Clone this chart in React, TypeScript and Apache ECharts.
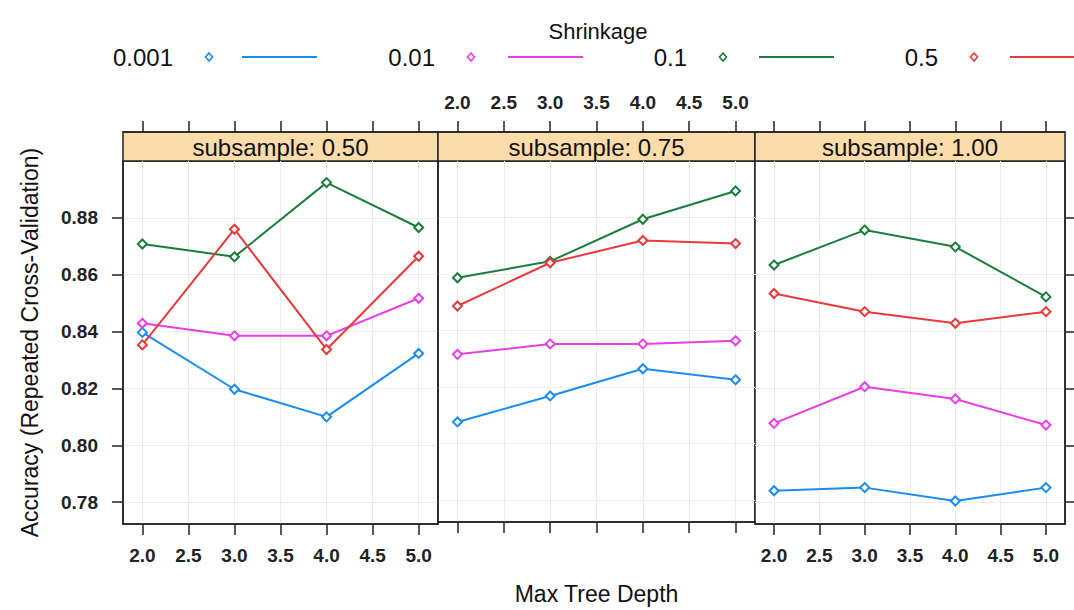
import React, { useEffect, useRef } from "react";
import * as echarts from "echarts";

// ---- data ----
const depths = [2, 3, 4, 5];
const xTicks = [2.0, 2.5, 3.0, 3.5, 4.0, 4.5, 5.0];
const yTicks = [0.78, 0.8, 0.82, 0.84, 0.86, 0.88];
const subsamples = ["subsample: 0.50", "subsample: 0.75", "subsample: 1.00"];
const shrinkages = ["0.001", "0.01", "0.1", "0.5"];

// subsample 0.50
const sub050_s0001 = [0.8397, 0.8197, 0.81, 0.8323];
const sub050_s001 = [0.8429, 0.8385, 0.8385, 0.8517];
const sub050_s01 = [0.8708, 0.8663, 0.8924, 0.8766];
const sub050_s05 = [0.8353, 0.876, 0.8337, 0.8665];
// subsample 0.75
const sub075_s0001 = [0.8077, 0.8169, 0.8265, 0.8226];
const sub075_s001 = [0.8316, 0.8353, 0.8353, 0.8364];
const sub075_s01 = [0.8587, 0.8645, 0.8794, 0.8894];
const sub075_s05 = [0.8487, 0.864, 0.8719, 0.8708];
// subsample 1.00
const sub100_s0001 = [0.784, 0.7851, 0.7804, 0.7851];
const sub100_s001 = [0.8077, 0.8206, 0.8163, 0.8071];
const sub100_s01 = [0.8634, 0.8757, 0.8698, 0.8522];
const sub100_s05 = [0.8534, 0.847, 0.8429, 0.847];

const panelData = [
  [sub050_s0001, sub050_s001, sub050_s01, sub050_s05],
  [sub075_s0001, sub075_s001, sub075_s01, sub075_s05],
  [sub100_s0001, sub100_s001, sub100_s01, sub100_s05],
];

// ---- style / layout ----
const colors = ["#1a8cf0", "#e83de8", "#1b7d3c", "#e8393b"];
const FONT = "Liberation Sans, Arial, sans-serif";
const panelLeft = [123, 438, 755];
const panelRight = [438, 755, 1065];
const stripTop = 132;
const plotTop = 161;
const plotBottom = 524;
const xMin = 1.79;
const xMax = 5.21;
const yMin = 0.7723;
const yMax = 0.9;
const legendDiamondX = [209, 471, 723, 974];
const legendLineX = [242, 508, 759, 1010];
const legendY = 57;

export default function App() {
  const ref = useRef<HTMLDivElement>(null);
  useEffect(() => {
    if (!ref.current) return;
    const chart = echarts.init(ref.current, undefined, { renderer: "svg" });

    const grids: any[] = [];
    const xAxes: any[] = [];
    const yAxes: any[] = [];
    const series: any[] = [];
    const graphics: any[] = [];

    const tickLabelStyle = {
      fontFamily: FONT,
      fontSize: 19,
      fontWeight: "bold",
      color: "#222",
    };

    for (let p = 0; p < 3; p++) {
      const w = panelRight[p] - panelLeft[p];
      // plot grid
      grids.push({
        left: panelLeft[p],
        top: plotTop,
        width: w,
        height: plotBottom - plotTop,
        show: true,
        backgroundColor: "#fff",
        borderColor: "#222",
        borderWidth: 1.5,
      });
      // strip grid
      grids.push({
        left: panelLeft[p],
        top: stripTop,
        width: w,
        height: plotTop - stripTop,
        show: true,
        backgroundColor: "#fcdcab",
        borderColor: "#222",
        borderWidth: 1.5,
      });
      const gPlot = p * 2;
      const gStrip = p * 2 + 1;

      xAxes.push({
        type: "value",
        gridIndex: gPlot,
        min: xMin,
        max: xMax,
        position: "bottom",
        name: p === 1 ? "Max Tree Depth" : "",
        nameLocation: "middle",
        nameGap: 60,
        nameTextStyle: { fontFamily: FONT, fontSize: 23, color: "#111" },
        axisLine: { show: true, onZero: false, lineStyle: { color: "#222", width: 1.5 } },
        axisTick: {
          show: true,
          inside: false,
          length: 11,
          customValues: xTicks,
          lineStyle: { color: "#222", width: 1.5 },
        },
        axisLabel: {
          show: p !== 1,
          customValues: xTicks,
          margin: 22,
          formatter: (v: number) => v.toFixed(1),
          ...tickLabelStyle,
        },
        splitLine: { show: true, lineStyle: { color: "#ececec", width: 1 } },
      });
      xAxes.push({
        type: "value",
        gridIndex: gStrip,
        min: xMin,
        max: xMax,
        position: "top",
        axisLine: { show: true, onZero: false, lineStyle: { color: "#222", width: 1.5 } },
        axisTick: {
          show: true,
          inside: false,
          length: 11,
          customValues: xTicks,
          lineStyle: { color: "#222", width: 1.5 },
        },
        axisLabel: {
          show: p === 1,
          customValues: xTicks,
          margin: 20,
          formatter: (v: number) => v.toFixed(1),
          ...tickLabelStyle,
        },
        splitLine: { show: false },
      });

      yAxes.push({
        type: "value",
        gridIndex: gPlot,
        min: yMin,
        max: yMax,
        position: p === 2 ? "right" : "left",
        name: p === 0 ? "Accuracy (Repeated Cross-Validation)" : "",
        nameLocation: "middle",
        nameGap: 82,
        nameTextStyle: { fontFamily: FONT, fontSize: 23, color: "#111" },
        axisLine: { show: true, onZero: false, lineStyle: { color: "#222", width: 1.5 } },
        axisTick: {
          show: p !== 1,
          inside: false,
          length: 11,
          customValues: yTicks,
          lineStyle: { color: "#222", width: 1.5 },
        },
        axisLabel: {
          show: p === 0,
          customValues: yTicks,
          margin: 25,
          formatter: (v: number) => v.toFixed(2),
          ...tickLabelStyle,
        },
        splitLine: { show: true, lineStyle: { color: "#ececec", width: 1 } },
      });
      yAxes.push({
        type: "value",
        gridIndex: gStrip,
        min: 0,
        max: 1,
        show: false,
      });

      for (let s = 0; s < 4; s++) {
        series.push({
          type: "line",
          name: shrinkages[s],
          xAxisIndex: gPlot,
          yAxisIndex: gPlot,
          data: depths.map((d, i) => [d, panelData[p][s][i]]),
          symbol: "emptyDiamond",
          symbolSize: 9,
          showSymbol: true,
          lineStyle: { color: colors[s], width: 2 },
          itemStyle: { color: colors[s], borderWidth: 1.8 },
          z: 3,
        });
      }

      graphics.push({
        type: "text",
        x: (panelLeft[p] + panelRight[p]) / 2,
        y: (stripTop + plotTop) / 2 + 1,
        style: {
          text: subsamples[p],
          fontFamily: FONT,
          fontSize: 24,
          fill: "#111",
          textAlign: "center",
          textVerticalAlign: "middle",
        },
        z: 10,
      });
    }

    // legend (drawn as graphic)
    graphics.push({
      type: "text",
      x: 598,
      y: 31,
      style: {
        text: "Shrinkage",
        fontFamily: FONT,
        fontSize: 22,
        fill: "#111",
        textAlign: "center",
        textVerticalAlign: "middle",
      },
    });
    shrinkages.forEach((name, i) => {
      const dx = legendDiamondX[i];
      graphics.push({
        type: "text",
        x: dx - 36,
        y: legendY,
        style: {
          text: name,
          fontFamily: FONT,
          fontSize: 24,
          fill: "#111",
          textAlign: "right",
          textVerticalAlign: "middle",
        },
      });
      graphics.push({
        type: "polygon",
        shape: {
          points: [
            [dx, legendY - 4],
            [dx + 3.5, legendY],
            [dx, legendY + 4],
            [dx - 3.5, legendY],
          ],
        },
        style: { fill: "none", stroke: colors[i], lineWidth: 1.6 },
      });
      graphics.push({
        type: "line",
        shape: {
          x1: legendLineX[i],
          y1: legendY,
          x2: Math.min(legendLineX[i] + 75, 1074),
          y2: legendY,
        },
        style: { stroke: colors[i], lineWidth: 2 },
      });
    });

    chart.setOption({
      animation: false,
      backgroundColor: "#fff",
      grid: grids,
      xAxis: xAxes,
      yAxis: yAxes,
      series,
      graphic: graphics,
    });

    return () => chart.dispose();
  }, []);

  return (
    <div
      ref={ref}
      style={{ position: "fixed", left: 0, top: 0, width: 1074, height: 610 }}
    />
  );
}
